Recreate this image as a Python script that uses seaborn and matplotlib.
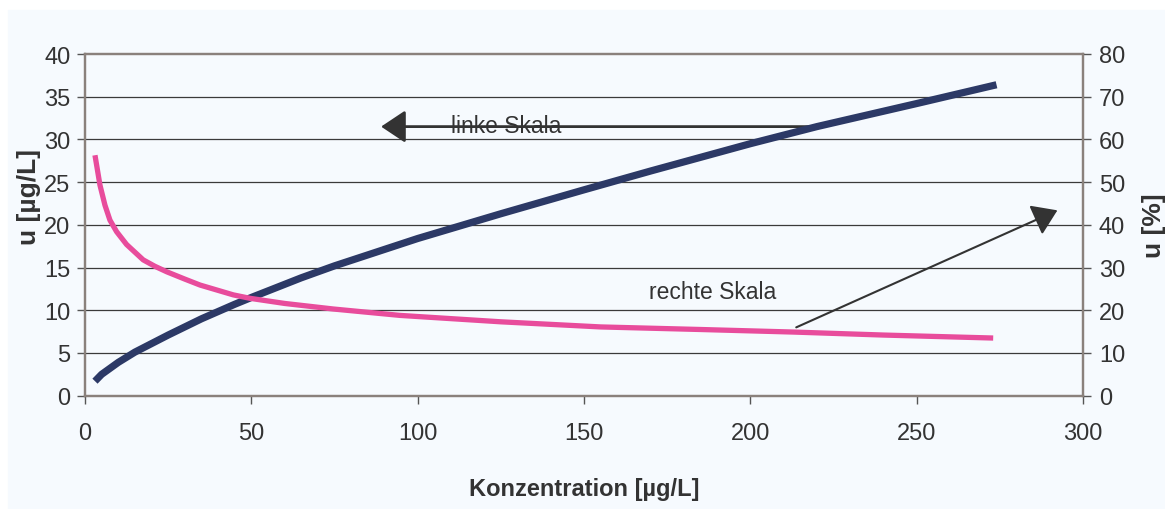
import matplotlib
matplotlib.use("Agg")
import matplotlib.pyplot as plt
import seaborn as sns
import numpy as np
import pandas as pd
from matplotlib.patches import Rectangle

# ---- data ----
conc_abs = [3, 5, 10, 15, 20, 25, 35, 45, 50, 65, 75, 100, 125, 150, 170, 200, 220, 250, 274]
u_abs = [1.7, 2.5, 3.9, 5.1, 6.1, 7.1, 9.0, 10.7, 11.5, 13.8, 15.2, 18.4, 21.3, 24.1, 26.3, 29.5, 31.5, 34.2, 36.4]

conc_rel = [3, 4.5, 6, 7.5, 9.5, 12.5, 17.5, 21, 24.6, 30, 34.6, 44.6, 49.6, 60, 74.6, 94.7,
            125, 155, 185, 213, 240, 273]
u_rel = [56.3, 49.3, 44.6, 41.1, 38.4, 35.4, 31.8, 30.3, 29.0, 27.3, 25.9, 23.6, 22.8, 21.6,
         20.3, 18.8, 17.3, 16.1, 15.5, 14.9, 14.2, 13.5]

x_ticks = [0, 50, 100, 150, 200, 250, 300]
left_ticks = [0, 5, 10, 15, 20, 25, 30, 35, 40]
right_ticks = [0, 10, 20, 30, 40, 50, 60, 70, 80]

x_label = "Konzentration [µg/L]"
left_label = "u [µg/L]"
right_label = "u [%]"
note_left = "linke Skala"
note_right = "rechte Skala"

BG = "#f6fafe"
NAVY = "#2c3966"
PINK = "#e84c9c"
SPINE = "#8a817c"
GRID = "#3a3a3a"
TXT = "#333333"

sns.set_theme(style="white")
plt.rcParams["font.family"] = ["Liberation Sans", "DejaVu Sans"]

W, H = 1165, 510
fig = plt.figure(figsize=(W / 100, H / 100), dpi=100, facecolor="white")
fig.patches.append(Rectangle((8 / W, 0), 1 - 8 / W, 1 - 11 / H,
                             transform=fig.transFigure, color=BG, zorder=-10))

ax = fig.add_axes([85 / W, 113.3 / H, 998 / W, 341.7 / H])
ax.set_facecolor(BG)
ax2 = ax.twinx()

df_abs = pd.DataFrame({"c": conc_abs, "u": u_abs})
df_rel = pd.DataFrame({"c": conc_rel, "u": u_rel})

sns.lineplot(data=df_abs, x="c", y="u", ax=ax, color=NAVY, lw=5.2, zorder=3,
             solid_capstyle="butt")
sns.lineplot(data=df_rel, x="c", y="u", ax=ax2, color=PINK, lw=3.8, zorder=3,
             solid_capstyle="butt")

ax.set_xlim(0, 300)
ax.set_ylim(0, 40)
ax2.set_ylim(0, 80)
ax.set_xticks(x_ticks)
ax.set_yticks(left_ticks)
ax2.set_yticks(right_ticks)
ax2.grid(False)

ax.grid(False)
for yv in left_ticks[1:-1]:
    ax.axhline(yv, color=GRID, lw=0.9, zorder=1)

for s in ["left", "top", "bottom", "right"]:
    ax.spines[s].set_color(SPINE)
    ax.spines[s].set_linewidth(1.6)
    ax2.spines[s].set_color(SPINE)
    ax2.spines[s].set_linewidth(1.6)

ax.tick_params(axis="x", direction="out", length=6, width=1, color="#555555",
               labelsize=17, labelcolor=TXT, pad=13, bottom=True)
ax.tick_params(axis="y", direction="out", length=5.5, width=1, color="#555555",
               labelsize=17, labelcolor=TXT, pad=5, left=True)
ax2.tick_params(axis="y", direction="out", length=5.5, width=1, color="#555555",
                labelsize=17, labelcolor=TXT, pad=6, right=True)

ax.set_xlabel(x_label, fontsize=17, fontweight="bold", color=TXT, labelpad=24)
ax.set_ylabel(left_label, fontsize=19, fontweight="bold", color=TXT)
ax.yaxis.set_label_coords(-0.044, 0.584)
ax2.set_ylabel(right_label, fontsize=19, fontweight="bold", color=TXT, labelpad=12)

# annotations (left scale coordinates)
ax.annotate("", xy=(89, 31.5), xytext=(220, 31.5),
            arrowprops=dict(arrowstyle="-|>,head_length=1.5,head_width=1.0",
                            mutation_scale=10, lw=2.0, color="#333333",
                            shrinkA=0, shrinkB=0), zorder=2)
ax.text(110, 30.9, note_left, fontsize=16.5, color=TXT, ha="left", va="baseline", zorder=2)

ax.annotate("", xy=(292.3, 21.7), xytext=(213.8, 8.0),
            arrowprops=dict(arrowstyle="-|>,head_length=1.5,head_width=1.0",
                            mutation_scale=10, lw=1.5, color="#333333",
                            shrinkA=0, shrinkB=0), zorder=2)
ax.text(169.4, 11.4, note_right, fontsize=16.5, color=TXT, ha="left", va="baseline", zorder=2)

fig.savefig("out.png", dpi=100, facecolor="white")
